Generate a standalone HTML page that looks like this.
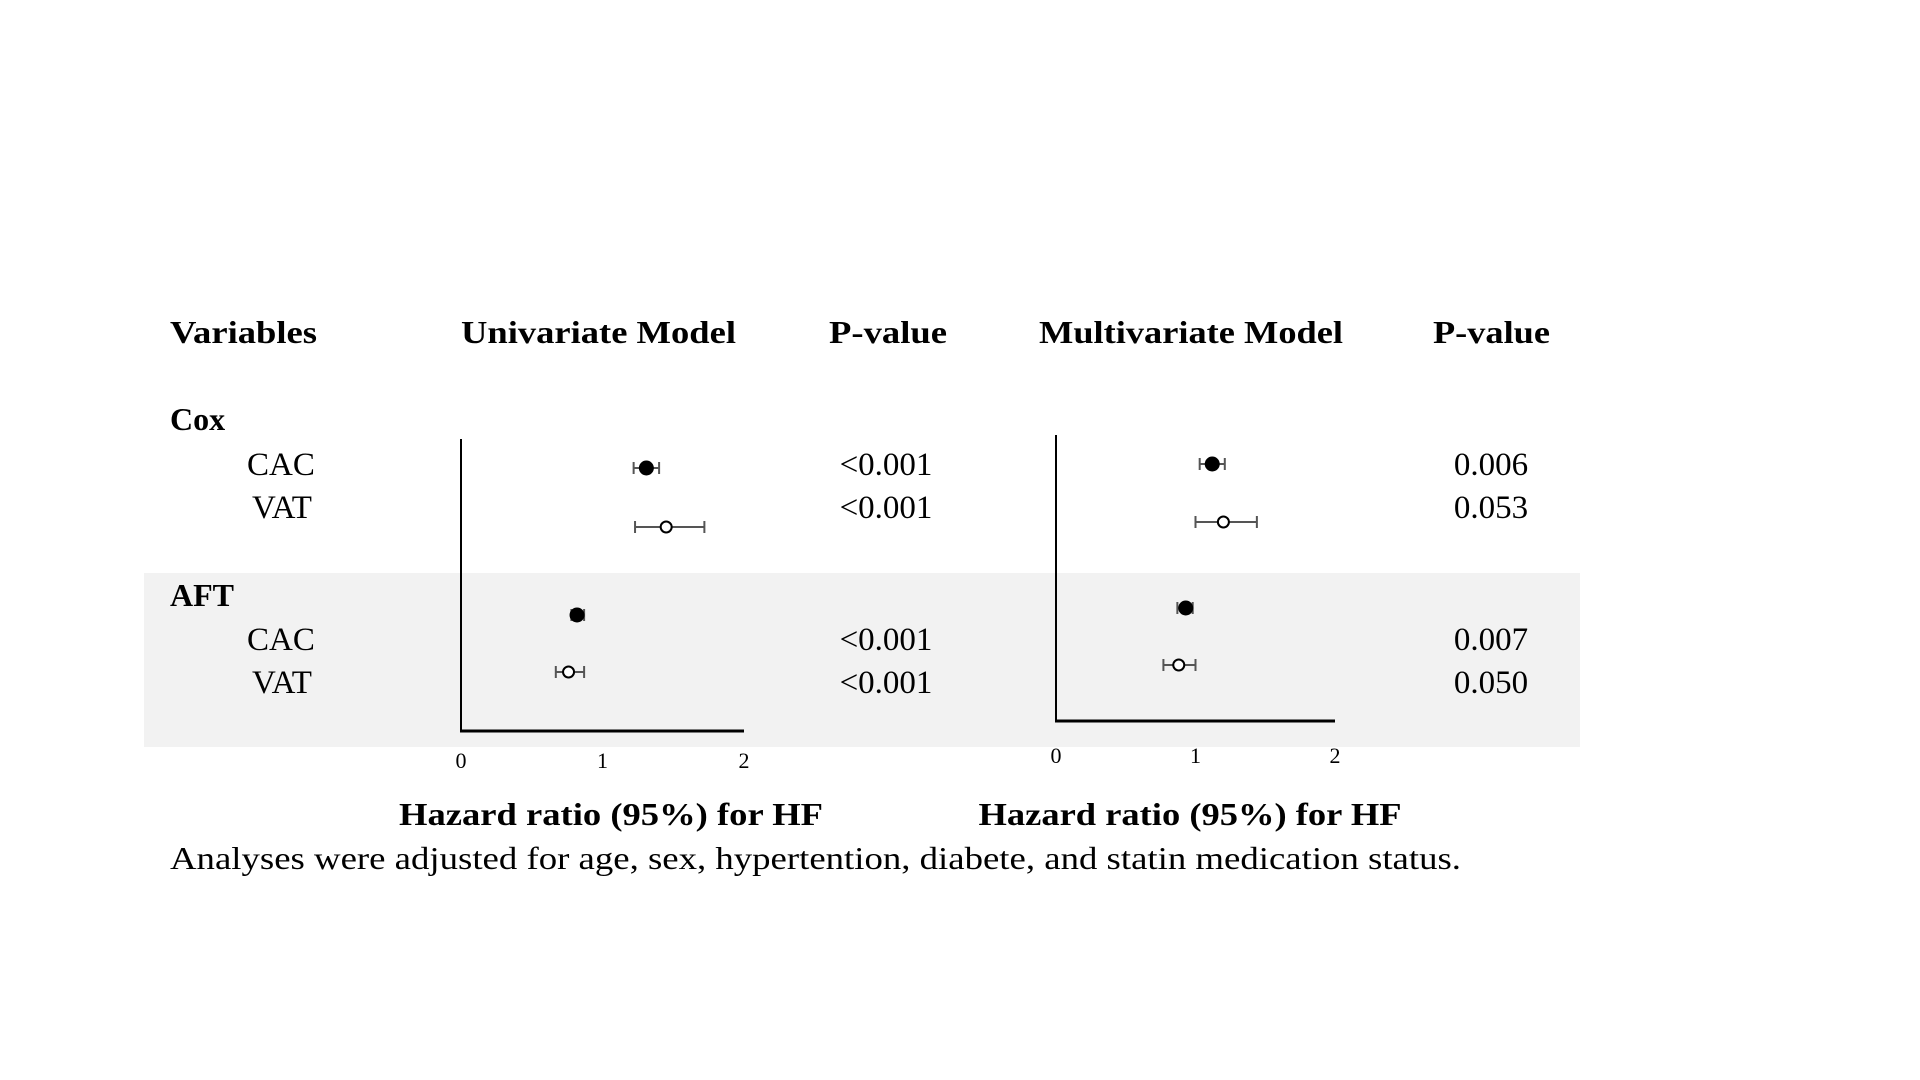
<!DOCTYPE html>
<html><head><meta charset="utf-8"><style>
html,body{margin:0;padding:0;background:#fff;}
svg{display:block;font-family:"Liberation Serif",serif;}
</style></head><body>
<svg id="chart" width="1920" height="1080" viewBox="0 0 1920 1080" xmlns="http://www.w3.org/2000/svg">
<rect x="144" y="573" width="1436" height="174" fill="#f2f2f2"/>
<g font-weight="bold" font-size="32" fill="#000">
<text x="170" y="343" textLength="147" lengthAdjust="spacingAndGlyphs">Variables</text>
<text x="461" y="343" textLength="275" lengthAdjust="spacingAndGlyphs">Univariate Model</text>
<text x="829" y="343" textLength="118" lengthAdjust="spacingAndGlyphs">P-value</text>
<text x="1039" y="343" textLength="304" lengthAdjust="spacingAndGlyphs">Multivariate Model</text>
<text x="1433" y="343" textLength="117" lengthAdjust="spacingAndGlyphs">P-value</text>
<text x="170" y="430">Cox</text>
<text x="170" y="606">AFT</text>
<text x="611" y="825" text-anchor="middle" textLength="424" lengthAdjust="spacingAndGlyphs">Hazard ratio (95%) for HF</text>
<text x="1190" y="825" text-anchor="middle" textLength="423" lengthAdjust="spacingAndGlyphs">Hazard ratio (95%) for HF</text>
</g>
<g font-size="33" fill="#000">
<text x="247" y="475">CAC</text>
<text x="252" y="518">VAT</text>
<text x="247" y="650">CAC</text>
<text x="252" y="693">VAT</text>
<text x="170" y="869" font-size="32" textLength="1291" lengthAdjust="spacingAndGlyphs">Analyses were adjusted for age, sex,  hypertention, diabete, and statin medication status.</text>
</g>
<g id="plots"></g>
</svg>
<script>
const uniEst = [1.31, 1.45, 0.82, 0.76];
const uniLo = [1.22, 1.23, 0.78, 0.67];
const uniHi = [1.40, 1.72, 0.87, 0.87];
const uniP = ["<0.001", "<0.001", "<0.001", "<0.001"];
const mulEst = [1.12, 1.20, 0.93, 0.88];
const mulLo = [1.03, 1.00, 0.87, 0.77];
const mulHi = [1.21, 1.44, 0.98, 1.00];
const mulP = ["0.006", "0.053", "0.007", "0.050"];
const filled = [true, false, true, false];
const ticks = [0, 1, 2];
const rowNames = ["cox-cac", "cox-vat", "aft-cac", "aft-vat"];

const NS = "http://www.w3.org/2000/svg";
const root = document.getElementById("plots");
function mk(tag, attrs, parent) {
  const e = document.createElementNS(NS, tag);
  for (const k in attrs) e.setAttribute(k, attrs[k]);
  (parent || root).appendChild(e);
  return e;
}
const panels = [
  {id:"uni", x0:461, x1:744, top:439, bottom:731, rows:[468,527,615,672], tickY:768, est:uniEst, lo:uniLo, hi:uniHi, p:uniP, pX:886, pY:[475,518,650,693]},
  {id:"multi", x0:1056, x1:1335, top:435, bottom:721, rows:[464,522,608,665], tickY:763, est:mulEst, lo:mulLo, hi:mulHi, p:mulP, pX:1491, pY:[475,518,650,693]}
];
panels.forEach(pn => {
  const xs = v => pn.x0 + (v - 0) / (2 - 0) * (pn.x1 - pn.x0);
  const g = mk("g", {});
  
  
  const ya = mk("line", {x1:pn.x0, y1:pn.top, x2:pn.x0, y2:pn.bottom, stroke:"#000", "stroke-width":2}, g);
  
  
  const xa = mk("line", {x1:pn.x0-1, y1:pn.bottom, x2:pn.x1, y2:pn.bottom, stroke:"#000", "stroke-width":3}, g);
  
  
  ticks.forEach(t => {
    const tl = mk("text", {x:xs(t), y:pn.tickY, "text-anchor":"middle", "font-size":22}, g);
    
    
    tl.textContent = String(t);
  });
  pn.est.forEach((v, i) => {
    const y = pn.rows[i];
    const gg = mk("g", {}, g);
    
    
    mk("line", {x1:xs(pn.lo[i]), y1:y, x2:xs(pn.hi[i]), y2:y, stroke:"#555", "stroke-width":2}, gg);
    mk("line", {x1:xs(pn.lo[i]), y1:y-6, x2:xs(pn.lo[i]), y2:y+6, stroke:"#555", "stroke-width":2}, gg);
    mk("line", {x1:xs(pn.hi[i]), y1:y-6, x2:xs(pn.hi[i]), y2:y+6, stroke:"#555", "stroke-width":2}, gg);
    mk("circle", {cx:xs(v), cy:y, r:filled[i]?6.5:5.5, fill:filled[i]?"#000":"#fff", stroke:"#000", "stroke-width":2}, gg);
    const pt = mk("text", {x:pn.pX, y:pn.pY[i], "text-anchor":"middle", "font-size":33}, g);
    
    
    pt.textContent = pn.p[i];
  });
});
</script>
</body></html>
